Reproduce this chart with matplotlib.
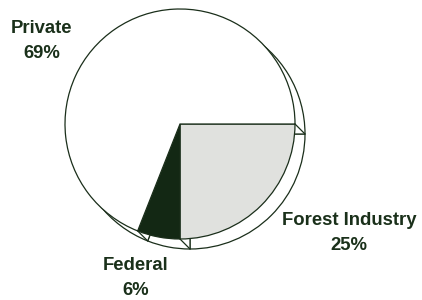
import numpy as np
import matplotlib
matplotlib.use("Agg")
import matplotlib.pyplot as plt

labels = ["Forest Industry\n25%", "Federal\n6%", "Private\n69%"]
shares = [25, 6, 69]
fills = ["#e0e1de", "#132814", "#ffffff"]
label_xy = [(349, 233), (136, 278), (42, 41)]  # pixel positions (y from top)

edge = "#1a2e1a"
W, H = 422, 300
cx, cy, r = 180, H - 124, 115
dx, dy = 10, -10   # depth offset of the back rim

fig = plt.figure(figsize=(W / 100, H / 100), dpi=100)
ax = fig.add_axes([0, 0, 1, 1])

# back rim: same pie shifted down-right, drawn first
ax.pie(shares, colors=["white"] * 3, startangle=0, counterclock=False,
       center=(cx + dx, cy + dy), radius=r, frame=True,
       wedgeprops=dict(edgecolor=edge, linewidth=0.9))
# front face
ax.pie(shares, colors=fills, startangle=0, counterclock=False,
       center=(cx, cy), radius=r, frame=True,
       wedgeprops=dict(edgecolor=edge, linewidth=0.9))

# rim connectors at slice boundaries on the visible side
bounds = -np.cumsum([0] + shares[:-1]) / 100 * 360
for a in bounds:
    t = np.deg2rad(a)
    x0, y0 = cx + r * np.cos(t), cy + r * np.sin(t)
    ax.plot([x0, x0 + dx], [y0, y0 + dy], color=edge, lw=0.9)

for lab, (x, y) in zip(labels, label_xy):
    ax.text(x, H - y, lab, ha="center", va="center", fontsize=13.3,
            fontweight="bold", family="Liberation Sans", color="#1a301a",
            linespacing=1.55)

ax.set_xlim(0, W)
ax.set_ylim(0, H)
ax.set_aspect("equal")
ax.axis("off")
fig.savefig("out.png", dpi=100)
